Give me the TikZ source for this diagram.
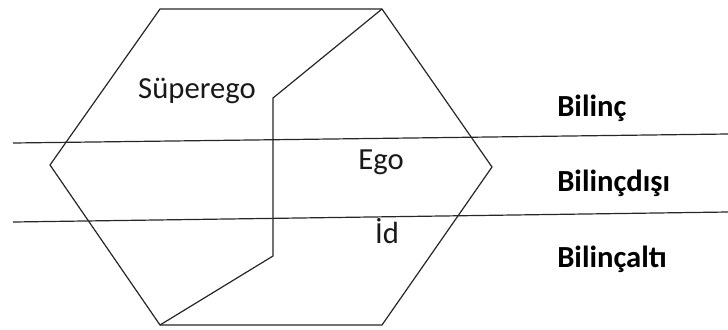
\documentclass[tikz,border=0pt]{standalone}
\usepackage{fontspec}
\setmainfont{Carlito}

\begin{document}
\begin{tikzpicture}[x=0.75pt,y=-0.75pt,font=\fontsize{23}{27}\selectfont,
  edge/.style={line width=0.9pt,black!85},
  part/.style={inner sep=0pt,text=black!90},
  level/.style={inner sep=0pt,anchor=west,font=\fontsize{23}{27}\selectfont\bfseries}]
\useasboundingbox (0,0) rectangle (728,329);
% hexagon
\coordinate (TL) at (160,9); \coordinate (TR) at (382,9); \coordinate (R) at (492,167);
\coordinate (BR) at (382,325); \coordinate (BL) at (160,325); \coordinate (L) at (50,165);
\draw[edge] (TL) -- (TR) -- (R) -- (BR) -- (BL) -- (L) -- cycle;
% inner boundary
\coordinate (K1) at (273,98); \coordinate (K2) at (273,256);
\draw[edge] (TR) -- (K1) -- (K2) -- (BL);
% levels
\coordinate (A1) at (13,143); \coordinate (A2) at (728,134);
\coordinate (B1) at (13,222); \coordinate (B2) at (728,212);
\draw[edge] (A1) -- (A2); \draw[edge] (B1) -- (B2);
\node[part] (superego) at (197,91) {Süperego};
\node[part] (ego) at (381,162) {Ego};
\node[part] (id) at (387,231) {İd};
\node[level] (bilinc) at (557,108) {Bilinç};
\node[level] (bilincdisi) at (557,183) {Bilinçdışı};
\node[level] (bilincalti) at (557,259) {Bilinçaltı};
\end{tikzpicture}
\end{document}
